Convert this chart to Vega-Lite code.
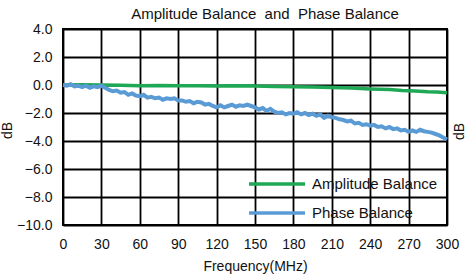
{
  "$schema": "https://vega.github.io/schema/vega-lite/v6.json",
  "autosize": "none",
  "width": 384,
  "height": 196,
  "padding": {"left": 63, "top": 29, "right": 28, "bottom": 52},
  "background": "white",
  "title": {
    "text": "Amplitude Balance\u00a0 and\u00a0 Phase Balance",
    "font": "Liberation Sans",
    "fontSize": 15,
    "fontWeight": "normal",
    "color": "#111",
    "offset": 0,
    "dx": 10
  },
  "config": {
    "view": {"stroke": "#000", "strokeWidth": 2},
    "axis": {
      "labelFont": "Liberation Sans",
      "titleFont": "Liberation Sans",
      "labelColor": "#111",
      "titleColor": "#111",
      "labelFontSize": 14,
      "titleFontSize": 14,
      "titleFontWeight": "normal",
      "gridColor": "#000",
      "gridWidth": 1.8,
      "gridOpacity": 1,
      "domain": false,
      "ticks": false
    },
    "legend": {
      "labelFont": "Liberation Sans"
    }
  },
  "resolve": {"axis": {"y": "independent"}},
  "encoding": {
    "x": {
      "field": "f",
      "type": "quantitative",
      "scale": {"domain": [0, 300], "nice": false},
      "axis": {
        "values": [0, 30, 60, 90, 120, 150, 180, 210, 240, 270, 300],
        "title": "Frequency(MHz)",
        "labelPadding": 12,
        "titlePadding": 8,
        "labelFlush": false
      }
    }
  },
  "layer": [
    {
      "data": {"values": [
        {"f": 0, "v": 0.0}, {"f": 15, "v": 0.02}, {"f": 30, "v": 0.0}, {"f": 45, "v": -0.02},
        {"f": 60, "v": -0.05}, {"f": 75, "v": -0.03}, {"f": 90, "v": -0.06}, {"f": 105, "v": -0.05},
        {"f": 120, "v": -0.08}, {"f": 135, "v": -0.06}, {"f": 150, "v": -0.08}, {"f": 165, "v": -0.1},
        {"f": 180, "v": -0.12}, {"f": 195, "v": -0.15}, {"f": 210, "v": -0.18}, {"f": 225, "v": -0.22},
        {"f": 240, "v": -0.28}, {"f": 255, "v": -0.32}, {"f": 265, "v": -0.4}, {"f": 275, "v": -0.42},
        {"f": 285, "v": -0.48}, {"f": 292, "v": -0.5}, {"f": 300, "v": -0.55}
      ]},
      "mark": {"type": "line", "strokeWidth": 3.5},
      "encoding": {
        "y": {
          "field": "v",
          "type": "quantitative",
          "scale": {"domain": [-10, 4], "nice": false},
          "axis": {
            "values": [-10, -8, -6, -4, -2, 0, 2, 4],
            "format": ".1f",
            "labelPadding": 11,
            "title": "dB",
            "titleAngle": -90,
            "titleX": -56,
            "titleY": 101,
            "titleAlign": "center",
            "titleBaseline": "middle"
          }
        },
        "color": {
          "datum": "Amplitude Balance",
          "type": "nominal",
          "scale": {"domain": ["Amplitude Balance", "Phase Balance"], "range": ["#1fa855", "#5b9bd5"]},
          "legend": {
            "title": null,
            "orient": "none",
            "legendX": 184,
            "legendY": 147,
            "padding": 0,
            "symbolType": "stroke",
            "symbolSize": 3136,
            "symbolStrokeWidth": 3.5,
            "clipHeight": 16,
            "rowPadding": 13,
            "labelOffset": 5,
            "labelFontSize": 15,
            "labelColor": "#111"
          }
        }
      }
    },
    {
      "data": {"values": [
        {"f": 0, "v": 0.0}, {"f": 3, "v": -0.05}, {"f": 6, "v": 0.05}, {"f": 9, "v": -0.1},
        {"f": 12, "v": -0.05}, {"f": 15, "v": -0.15}, {"f": 18, "v": -0.05}, {"f": 21, "v": -0.2},
        {"f": 24, "v": -0.1}, {"f": 27, "v": -0.15}, {"f": 30, "v": -0.05}, {"f": 33, "v": -0.2},
        {"f": 36, "v": -0.35}, {"f": 39, "v": -0.45}, {"f": 42, "v": -0.4}, {"f": 45, "v": -0.55},
        {"f": 48, "v": -0.5}, {"f": 51, "v": -0.7}, {"f": 54, "v": -0.6}, {"f": 57, "v": -0.75},
        {"f": 60, "v": -0.8}, {"f": 63, "v": -0.7}, {"f": 66, "v": -0.9}, {"f": 69, "v": -0.85},
        {"f": 72, "v": -0.95}, {"f": 75, "v": -0.9}, {"f": 78, "v": -1.05}, {"f": 81, "v": -0.95},
        {"f": 84, "v": -1.0}, {"f": 87, "v": -0.95}, {"f": 90, "v": -1.1}, {"f": 93, "v": -1.1},
        {"f": 96, "v": -1.2}, {"f": 99, "v": -1.15}, {"f": 102, "v": -1.3}, {"f": 105, "v": -1.2},
        {"f": 108, "v": -1.25}, {"f": 111, "v": -1.4}, {"f": 114, "v": -1.35}, {"f": 117, "v": -1.5},
        {"f": 120, "v": -1.6}, {"f": 123, "v": -1.45}, {"f": 126, "v": -1.6}, {"f": 129, "v": -1.5},
        {"f": 132, "v": -1.4}, {"f": 135, "v": -1.55}, {"f": 138, "v": -1.45}, {"f": 141, "v": -1.5},
        {"f": 144, "v": -1.4}, {"f": 147, "v": -1.5}, {"f": 150, "v": -1.6}, {"f": 153, "v": -1.75},
        {"f": 156, "v": -1.65}, {"f": 159, "v": -1.85}, {"f": 162, "v": -1.7}, {"f": 165, "v": -1.9},
        {"f": 168, "v": -2.0}, {"f": 171, "v": -1.95}, {"f": 174, "v": -2.1}, {"f": 177, "v": -2.0},
        {"f": 180, "v": -2.05}, {"f": 183, "v": -1.95}, {"f": 186, "v": -2.1}, {"f": 189, "v": -2.0},
        {"f": 192, "v": -2.15}, {"f": 195, "v": -2.05}, {"f": 198, "v": -2.2}, {"f": 201, "v": -2.1},
        {"f": 204, "v": -2.35}, {"f": 207, "v": -2.2}, {"f": 210, "v": -2.3}, {"f": 213, "v": -2.35},
        {"f": 216, "v": -2.45}, {"f": 219, "v": -2.5}, {"f": 222, "v": -2.6}, {"f": 225, "v": -2.55},
        {"f": 228, "v": -2.75}, {"f": 231, "v": -2.7}, {"f": 234, "v": -2.85}, {"f": 237, "v": -2.8},
        {"f": 240, "v": -2.9}, {"f": 243, "v": -2.85}, {"f": 246, "v": -3.0}, {"f": 249, "v": -2.95},
        {"f": 252, "v": -3.1}, {"f": 255, "v": -3.0}, {"f": 258, "v": -3.15}, {"f": 261, "v": -3.1},
        {"f": 264, "v": -3.25}, {"f": 267, "v": -3.2}, {"f": 270, "v": -3.35}, {"f": 273, "v": -3.25},
        {"f": 276, "v": -3.35}, {"f": 279, "v": -3.2}, {"f": 282, "v": -3.3}, {"f": 285, "v": -3.35},
        {"f": 288, "v": -3.4}, {"f": 291, "v": -3.5}, {"f": 294, "v": -3.6}, {"f": 297, "v": -3.75},
        {"f": 300, "v": -3.9}
      ]},
      "mark": {"type": "line", "strokeWidth": 4},
      "encoding": {
        "y": {
          "field": "v",
          "type": "quantitative",
          "scale": {"domain": [-10, 4], "nice": false},
          "axis": {
            "orient": "right",
            "labels": false,
            "grid": false,
            "title": "dB",
            "titleAngle": -90,
            "titleX": 12,
            "titleY": 102,
            "titleAlign": "center",
            "titleBaseline": "middle"
          }
        },
        "color": {"datum": "Phase Balance", "type": "nominal"}
      }
    }
  ]
}
